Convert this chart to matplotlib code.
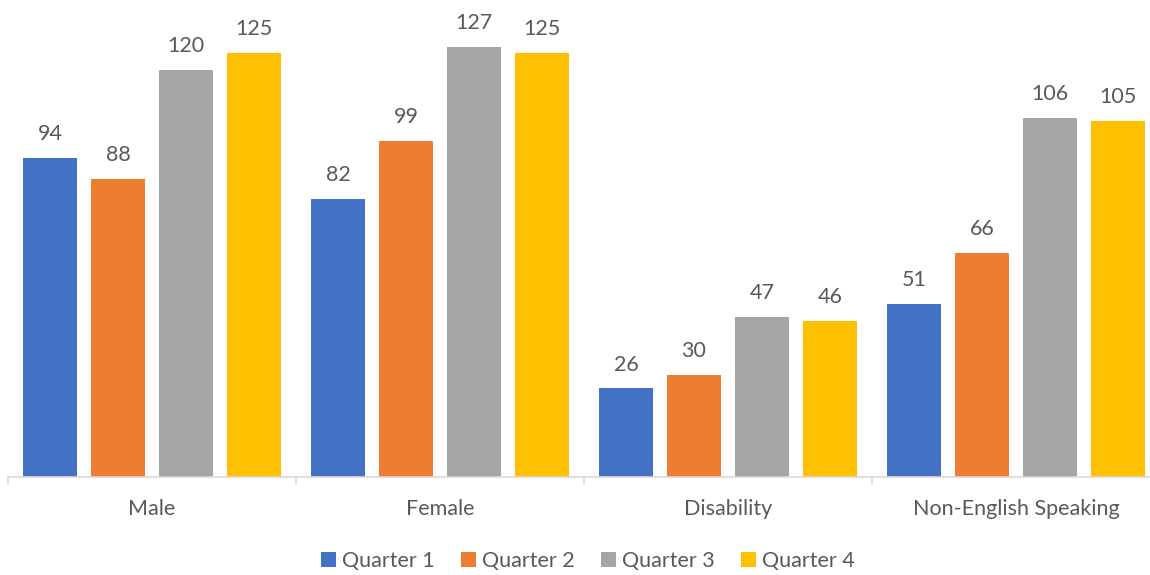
import matplotlib
matplotlib.use("Agg")
import matplotlib.pyplot as plt
from matplotlib.patches import Patch
import numpy as np

categories = ["Male", "Female", "Disability", "Non-English Speaking"]
series_names = ["Quarter 1", "Quarter 2", "Quarter 3", "Quarter 4"]
q1 = [94, 82, 26, 51]
q2 = [88, 99, 30, 66]
q3 = [120, 127, 47, 106]
q4 = [125, 125, 46, 105]
colors = ["#4472C4", "#ED7D31", "#A5A5A5", "#FFC000"]

plt.rcParams["font.family"] = ["Lato", "DejaVu Sans"]
text_color = "#595959"
fs = 15.5

W, H = 1150, 575
fig = plt.figure(figsize=(W / 100, H / 100), dpi=100)
ax_left, ax_right = 8, 1160
base_y = 476.5
ax = fig.add_axes([ax_left / W, (H - base_y) / H, (ax_right - ax_left) / W, base_y / H])

ymax = base_y / (430 / 127)
x = np.arange(len(categories))
bar_w = 54 / 288
pitch = 68 / 288
all_series = [q1, q2, q3, q4]
for i, (vals, col) in enumerate(zip(all_series, colors)):
    pos = x + (i - 1.5) * pitch
    ax.bar(pos, vals, width=bar_w, color=col, zorder=2)
    for px, v in zip(pos, vals):
        ax.annotate(str(v), (px, v), xytext=(0, 10), textcoords="offset points",
                    ha="center", va="bottom", fontsize=fs, color=text_color)

ax.set_xlim(-0.5, len(categories) - 0.5)
ax.set_ylim(0, ymax)
for s in ["top", "right", "left"]:
    ax.spines[s].set_visible(False)
ax.spines["bottom"].set_color("#D9D9D9")
ax.spines["bottom"].set_linewidth(1.2)
ax.set_yticks([])
ax.set_xticks(np.arange(len(categories) + 1) - 0.5, minor=True)
ax.set_xticks(x)
ax.set_xticklabels(categories, fontsize=fs, color=text_color)
ax.tick_params(axis="x", which="major", length=0, pad=16)
ax.tick_params(axis="x", which="minor", length=6, color="#D9D9D9", width=1.2)

handles = [Patch(facecolor=c, edgecolor="none", label=n) for c, n in zip(colors, series_names)]
fig.legend(handles=handles, loc="center", bbox_to_anchor=(588 / W, 1 - 561 / H), ncol=4,
           frameon=False, fontsize=fs, labelcolor=text_color, handlelength=0.7,
           handleheight=0.7, handletextpad=0.3, columnspacing=1.2)

fig.savefig("out.png", dpi=100)
